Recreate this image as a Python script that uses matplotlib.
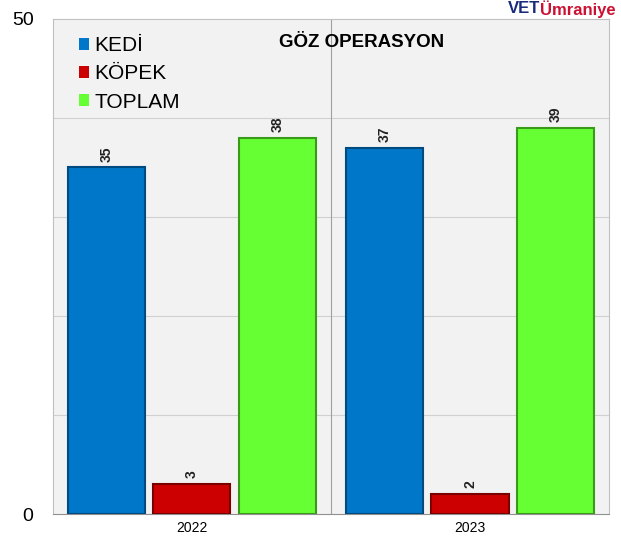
import matplotlib.pyplot as plt
import numpy as np

plt.rcParams['font.family'] = ['Liberation Sans', 'DejaVu Sans']

years = ["2022", "2023"]
kedi = [35, 37]
kopek = [3, 2]
toplam = [38, 39]
series_names = ["KEDİ", "KÖPEK", "TOPLAM"]

colors = ["#0077c8", "#cc0000", "#66ff33"]
edges = ["#004a80", "#7a0000", "#3a9a1a"]

fig = plt.figure(figsize=(6.21, 5.4), dpi=100, facecolor="white")
ax = fig.add_axes([0.0853, 0.048, 0.8954, 0.917])
ax.set_facecolor("#f2f2f2")

x = np.arange(len(years))
width = 0.277
offsets = [-0.307, 0.0, 0.307]
all_vals = [kedi, kopek, toplam]

for vals, off, c, e, name in zip(all_vals, offsets, colors, edges, series_names):
    bars = ax.bar(x + off, vals, width, color=c, edgecolor=e, linewidth=1.5, label=name, zorder=3)
    for b, v in zip(bars, vals):
        ax.text(b.get_x() + b.get_width() / 2, v + 0.6, str(v), rotation=90,
                ha="center", va="bottom", fontsize=10, fontweight="bold", color="#222222", zorder=4)

ax.set_xlim(-0.5, 1.5)
ax.set_ylim(0, 50)
ax.set_yticks([0, 50])
ax.set_yticklabels(["0", "50"], fontsize=14)
ax.set_xticks(x)
ax.set_xticklabels(years, fontsize=10)
ax.tick_params(axis="both", length=0, pad=5)
ax.tick_params(axis="y", pad=14)

for yv in [10, 20, 30, 40]:
    ax.axhline(yv, color="#d0d0d0", linewidth=0.8, zorder=1)
ax.axvline(0.5, color="#a0a0a0", linewidth=0.8, zorder=1)

for s in ax.spines.values():
    s.set_color("#c0c0c0")
    s.set_linewidth(0.8)
ax.spines["bottom"].set_color("#909090")

ax.text(0.555, 0.97, "GÖZ OPERASYON", transform=ax.transAxes, ha="center", va="top",
        fontsize=13.5, fontweight="bold")

leg = ax.legend(loc="upper left", bbox_to_anchor=(0.02, 0.995), frameon=False, fontsize=15,
                handlelength=0.5, handleheight=0.5, handletextpad=0.25, labelspacing=0.45,
                borderaxespad=0.3)
for h in leg.legend_handles:
    h.set_edgecolor("none")

fig.text(0.87, 0.999, "VET", color="#1a2a7a", fontsize=12, fontweight="bold", ha="right", va="top")
fig.text(0.87, 0.999, "Ümraniye", color="#cc1133", fontsize=12, fontweight="bold", ha="left", va="top")

fig.savefig("out.png", dpi=100)
